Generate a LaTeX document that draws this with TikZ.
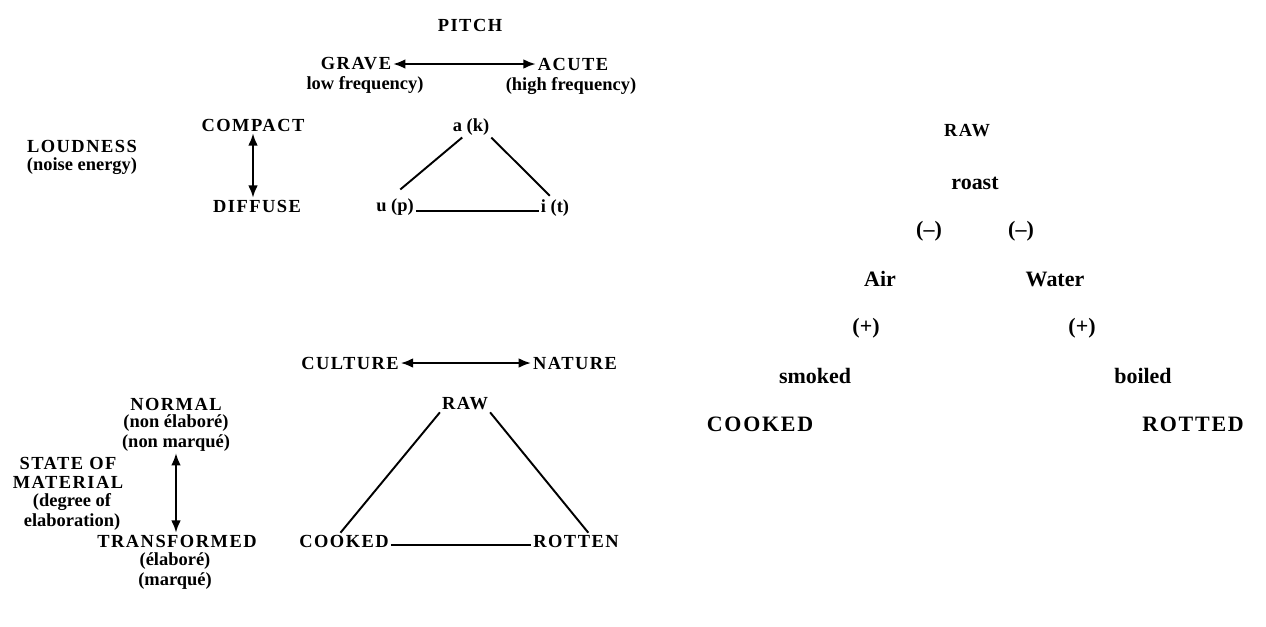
\documentclass[tikz,border=0pt]{standalone}
\usepackage{fontspec}
\setmainfont{Liberation Serif}
\usetikzlibrary{positioning,arrows.meta}

\begin{document}
\begin{tikzpicture}[x=0.02cm, y=-0.02cm, node distance=0mm,
  upper/.style={font=\bfseries\fontsize{10.5}{10.8}\selectfont\addfontfeature{LetterSpace=8}, inner sep=1pt},
  sub/.style={font=\bfseries\fontsize{10.5}{11}\selectfont, inner sep=1pt, align=center},
  bigsub/.style={font=\bfseries\fontsize{12.5}{12.5}\selectfont, inner sep=1pt},
  bigupper/.style={font=\bfseries\fontsize{12.5}{12.5}\selectfont\addfontfeature{LetterSpace=8}, inner sep=1pt},
  twoway/.style={{Latex[length=7pt,width=5.5pt]}-{Latex[length=7pt,width=5.5pt]}, line width=1.1pt},
  side/.style={line width=1.1pt}]
\useasboundingbox[fill=white] (0,0) rectangle (1266,626);

% pitch and loudness
\node (pitch) [upper] at (470,25) {PITCH};
\node (grave) [upper] at (356,64) {GRAVE};
\node (gravesub) [sub] at (365,85) {low frequency)};
\node (acute) [upper] at (573,64) {ACUTE};
\node (acutesub) [sub] at (571,86) {(high frequency)};
\draw[twoway] (grave) -- (acute);

\node (loud) [upper] at (82,146) {LOUDNESS};
\node (loudsub) [sub] at (82,166) {(noise energy)};
\node (compact) [upper] at (253,125) {COMPACT};
\node (diffuse) [upper] at (257,206) {DIFFUSE};
\draw[twoway] (compact.south) -- (compact.south |- diffuse.north);

\node (ak) [sub] at (471,127) {a (k)};
\node (up) [sub] at (395,207) {u (p)};
\node (it) [sub] at (555,208) {i (t)};
\draw[side] ([xshift=-5pt]ak.south) -- ([xshift=3pt,yshift=4pt]up.north);
\draw[side] (ak.south east) -- ([xshift=-3pt,yshift=1pt]it.north);
\draw[side] ([yshift=-2.2pt]up.east) -- ([yshift=-2.2pt]up.east -| it.west);

% culture and nature
\node (culture) [upper] at (350,363) {CULTURE};
\node (nature) [upper] at (575,363) {NATURE};
\draw[twoway] (culture) -- (nature);

\node (normal) [upper] at (176,404) {NORMAL};
\node (normalsub) [sub] at (176,433) {(non élaboré)\\(non marqué)};
\node (state) [upper, align=center] at (68,473) {STATE OF\\MATERIAL};
\node (statesub) [sub] at (72,512) {(degree of\\elaboration)};
\node (transf) [upper] at (177,541) {TRANSFORMED};
\node (transfsub) [sub] at (175,571) {(élaboré)\\(marqué)};
\draw[twoway] (normalsub.south) -- (normalsub.south |- transf.north);

\node (raw) [upper] at (465,404) {RAW};
\node (cooked) [upper] at (344,541) {COOKED};
\node (rotten) [upper] at (576,541) {ROTTEN};
\draw[side] (raw.south west) -- ([xshift=-2pt]cooked.north);
\draw[side] (raw.south east) -- ([xshift=7pt]rotten.north);
\draw[side] ([yshift=-2.2pt]cooked.east) -- ([yshift=-2.2pt]cooked.east -| rotten.west);

% roast, smoked, boiled
\node (rawtop) [upper] at (967,131) {RAW};
\node (roast) [bigsub] at (975,183) {roast};
\node (minusl) [bigsub] at (929,231) {(--)};
\node (minusr) [bigsub] at (1021,231) {(--)};
\node (air) [bigsub] at (880,279) {Air};
\node (water) [bigsub] at (1055,279) {Water};
\node (plusl) [bigsub] at (866,328) {(+)};
\node (plusr) [bigsub] at (1082,328) {(+)};
\node (smoked) [bigsub] at (815,376) {smoked};
\node (boiled) [bigsub] at (1143,376) {boiled};
\node (cookedr) [bigupper] at (760,424) {COOKED};
\node (rotted) [bigupper] at (1193,424) {ROTTED};
\end{tikzpicture}
\end{document}
